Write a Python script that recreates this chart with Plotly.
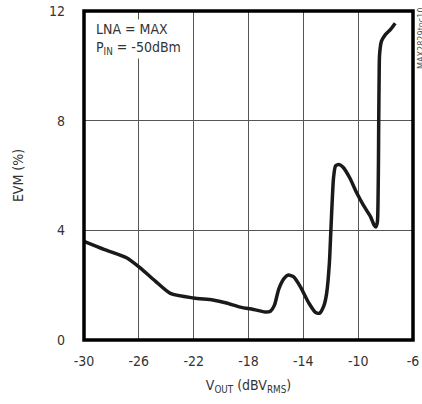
import plotly.graph_objects as go

vout = [-30.0, -28.5, -26.9, -25.9, -24.8, -23.7, -22.0, -20.6, -19.6, -18.6, -17.5, -16.8, -16.4, -16.1,
        -15.8, -15.4, -15.1, -14.7, -14.2, -13.6, -13.1, -12.8, -12.5, -12.3, -12.1, -12.0, -11.9, -11.8,
        -11.65, -11.4, -11.1, -10.6, -10.1, -9.6, -9.1, -8.85, -8.72, -8.6, -8.55, -8.52, -8.5, -8.47,
        -8.44, -8.3, -8.0, -7.6, -7.3]
evm = [3.6, 3.3, 3.0, 2.63, 2.15, 1.7, 1.53, 1.46, 1.35, 1.2, 1.1, 1.02, 1.05, 1.28,
       1.85, 2.25, 2.37, 2.3, 1.93, 1.35, 1.0, 0.98, 1.25, 1.7, 2.8, 3.9, 5.0, 5.9,
       6.35, 6.4, 6.3, 5.9, 5.36, 4.9, 4.5, 4.2, 4.12, 4.3, 5.1, 6.5, 8.0, 9.6,
       10.4, 10.9, 11.15, 11.35, 11.55]

x_ticks = [-30, -26, -22, -18, -14, -10, -6]
y_ticks = [0, 4, 8, 12]

FONT = "DejaVu Sans Condensed, Liberation Sans Narrow, Arial Narrow, sans-serif"
TXT = "#333333"

fig = go.Figure()
fig.add_trace(go.Scatter(x=vout, y=evm, mode="lines",
                         line=dict(color="#1a1a1a", width=3.5, shape="spline", smoothing=0.6),
                         showlegend=False, hoverinfo="skip"))

fig.update_layout(
    width=422, height=404,
    margin=dict(l=84, r=9, t=11, b=64),
    paper_bgcolor="white", plot_bgcolor="white",
    font=dict(family=FONT, size=14, color=TXT),
    xaxis=dict(range=[-30, -6], tickvals=x_ticks, ticktext=[str(v) for v in x_ticks],
               showgrid=True, gridcolor="#555555", gridwidth=1, zeroline=False,
               showline=False, ticks="", ticklabelstandoff=11, automargin=False,
               title=dict(text="V<sub>OUT</sub> (dBV<sub>RMS</sub>)", font=dict(size=14, color=TXT), standoff=12)),
    yaxis=dict(range=[0, 12], tickvals=y_ticks, ticktext=[str(v) for v in y_ticks],
               showgrid=True, gridcolor="#555555", gridwidth=1, zeroline=False,
               showline=False, ticks="", ticklabelstandoff=18, automargin=False,
               title=dict(text="EVM (%)", font=dict(size=14, color=TXT), standoff=22)),
    shapes=[dict(type="rect", xref="paper", yref="paper", x0=0, y0=0, x1=1, y1=1,
                 line=dict(color="black", width=3.5), layer="above")],
    annotations=[
        dict(text="LNA = MAX<br>P<sub>IN</sub> = -50dBm", xref="paper", yref="paper",
             x=0.03, y=0.975, xanchor="left", yanchor="top", showarrow=False, align="left",
             bgcolor="white", font=dict(size=14, color=TXT, family=FONT)),
        dict(text="MAX2829toc10", xref="paper", yref="paper", x=1.0, y=1.0,
             xshift=1, yshift=6, xanchor="left", yanchor="top", showarrow=False, textangle=-90,
             font=dict(size=9, color="#555555", family=FONT)),
    ],
)

fig.write_html("out.html", config={"displayModeBar": False},
               post_script="document.body.style.margin='0';document.body.style.padding='0';")
